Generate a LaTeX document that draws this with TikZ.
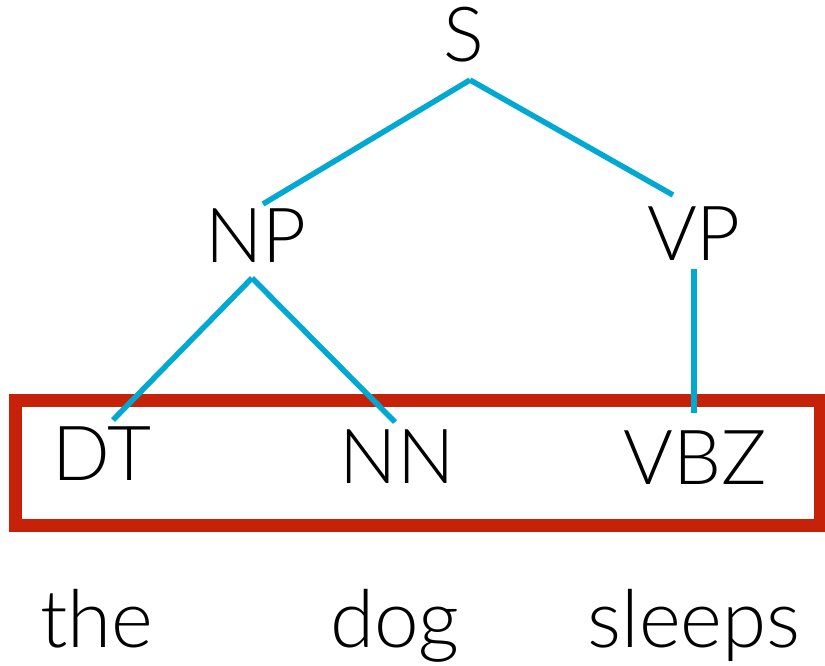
\documentclass[tikz,border=0pt]{standalone}
\usepackage{fontspec}
\setmainfont{Lato}[UprightFont=* Light]
\definecolor{branch}{RGB}{0,168,210}
\definecolor{frame}{RGB}{198,34,10}
\tikzset{
  lbl/.style={anchor=base, inner sep=0pt, font=\fontsize{76}{84}\selectfont},
  word/.style={lbl, font=\fontsize{80}{88}\selectfont},
  edge/.style={draw=branch, line width=5.5pt},
  spanbox/.style={draw=frame, line width=13pt, inner sep=0pt,
    minimum width=805pt, minimum height=125pt}
}
\begin{document}
\begin{tikzpicture}[x=1pt, y=-1pt]
  \useasboundingbox (0,0) rectangle (825,666);
  % frame around the preterminal row
  \node[spanbox] (row) at (417.5,462.5) {};
  % tree labels
  \node[lbl] (S)   at (464,62)  {S};
  \node[lbl] (NP)  at (256,262) {NP};
  \node[lbl] (VP)  at (694,260) {VP};
  \node[lbl] (DT)  at (102,480) {DT};
  \node[lbl] (NN)  at (397,483) {NN};
  \node[lbl] (VBZ) at (695,484) {VBZ};
  % words
  \node[word] (w1) at (97,647)  {the};
  \node[word] (w2) at (395,647) {dog};
  \node[word] (w3) at (694,647) {sleeps};
  % branches
  \draw[edge] ([shift={(6,18)}]S.base) -- ([shift={(7,-58)}]NP.base);
  \draw[edge] ([shift={(6,18)}]S.base) -- ([shift={(-21,-65)}]VP.base);
  \draw[edge] ([shift={(-4,16)}]NP.base) -- ([shift={(11,-60)}]DT.base);
  \draw[edge] ([shift={(-4,16)}]NP.base) -- ([shift={(-2,-61)}]NN.base);
  \draw[edge] ([shift={(0,9)}]VP.base) -- ([shift={(-1,-71)}]VBZ.base);
\end{tikzpicture}
\end{document}
